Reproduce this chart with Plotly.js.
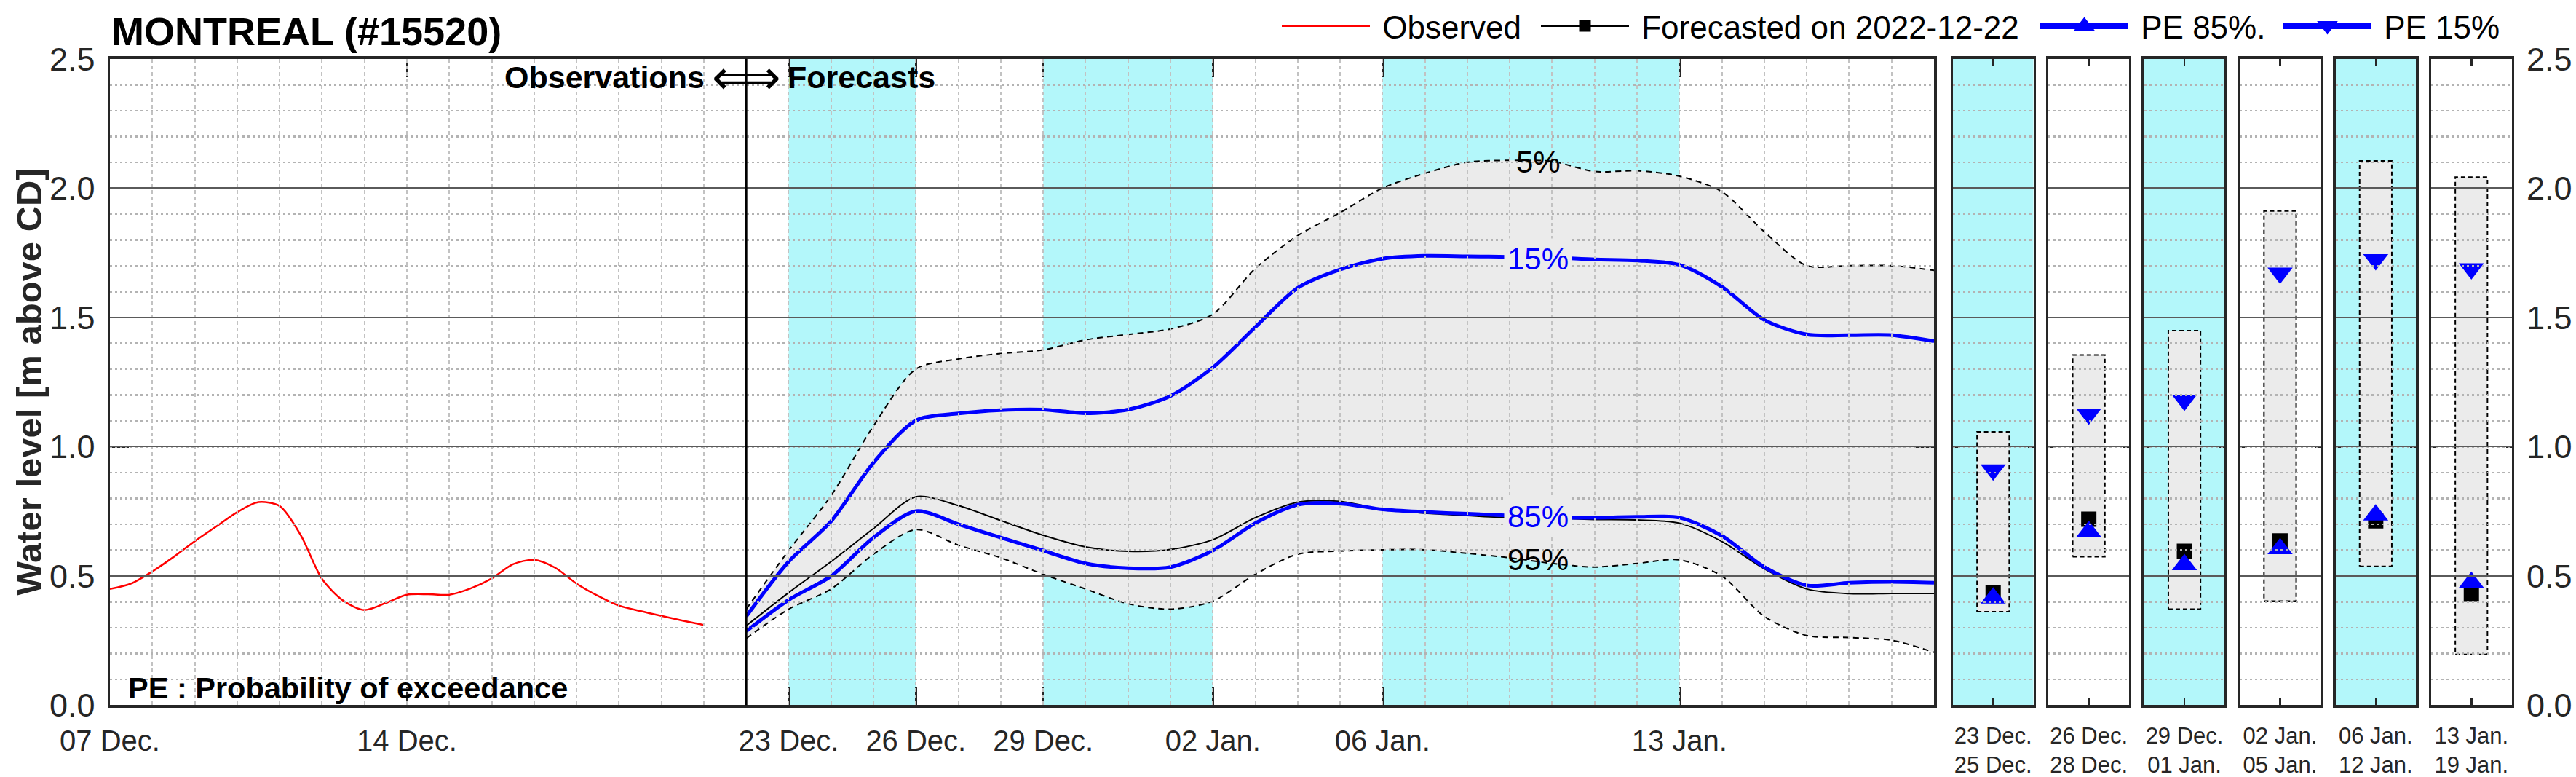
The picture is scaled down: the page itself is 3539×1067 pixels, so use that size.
<!DOCTYPE html>
<html>
<head>
<meta charset="utf-8">
<script src="https://cdn.plot.ly/plotly-3.0.1.min.js"></script>
<style>
html,body{margin:0;padding:0;background:#ffffff;}
#chart{width:3539px;height:1067px;}
</style>
</head>
<body>
<div id="chart"></div>
<script>
// ---------------- DATA ----------------
const obsDates = [
  '2022-12-07 00:00','2022-12-07 12:00','2022-12-08 00:00','2022-12-08 12:00','2022-12-09 00:00','2022-12-09 12:00',
  '2022-12-10 00:00','2022-12-10 12:00','2022-12-11 00:00','2022-12-11 12:00','2022-12-12 00:00','2022-12-12 12:00',
  '2022-12-13 00:00','2022-12-13 12:00','2022-12-14 00:00','2022-12-14 12:00','2022-12-15 00:00','2022-12-15 12:00',
  '2022-12-16 00:00','2022-12-16 12:00','2022-12-17 00:00','2022-12-17 12:00','2022-12-18 00:00','2022-12-18 12:00',
  '2022-12-19 00:00','2022-12-19 12:00','2022-12-20 00:00','2022-12-20 12:00','2022-12-21 00:00'
];
const obsLevel = [
  0.449,0.470,0.517,0.573,0.634,0.690,0.746,0.785,0.770,0.657,0.488,0.404,0.368,0.395,0.427,
  0.429,0.427,0.451,0.490,0.545,0.562,0.531,0.470,0.423,0.385,0.364,0.345,0.327,0.310
];

const fcDates = [
  '2022-12-22','2022-12-23','2022-12-24','2022-12-25','2022-12-26','2022-12-27','2022-12-28','2022-12-29',
  '2022-12-30','2022-12-31','2023-01-01','2023-01-02','2023-01-03','2023-01-04','2023-01-05','2023-01-06',
  '2023-01-07','2023-01-08','2023-01-09','2023-01-10','2023-01-11','2023-01-12','2023-01-13','2023-01-14',
  '2023-01-15','2023-01-16','2023-01-17','2023-01-18','2023-01-19'
];
const fcLevel = [0.307,0.435,0.555,0.683,0.806,0.772,0.714,0.657,0.612,0.595,0.602,0.640,0.725,0.785,0.788,
  0.757,0.742,0.733,0.725,0.723,0.718,0.716,0.704,0.633,0.527,0.449,0.431,0.432,0.432];
const pe5 = [0.371,0.598,0.810,1.080,1.300,1.339,1.360,1.374,1.413,1.434,1.455,1.512,1.689,1.816,1.905,
  2.000,2.057,2.100,2.107,2.103,2.064,2.067,2.046,1.986,1.831,1.700,1.700,1.700,1.682];
const pe15 = [0.343,0.555,0.711,0.938,1.101,1.128,1.141,1.143,1.129,1.143,1.196,1.306,1.462,1.614,1.685,
  1.727,1.738,1.736,1.734,1.731,1.724,1.720,1.703,1.618,1.490,1.434,1.431,1.431,1.408];
const pe85 = [0.286,0.407,0.499,0.648,0.750,0.700,0.648,0.598,0.548,0.530,0.534,0.598,0.704,0.775,0.780,
  0.757,0.747,0.740,0.733,0.725,0.725,0.728,0.725,0.655,0.534,0.463,0.473,0.477,0.473];
const pe95 = [0.258,0.371,0.449,0.584,0.679,0.619,0.570,0.506,0.449,0.392,0.371,0.402,0.506,0.584,0.596,
  0.601,0.601,0.587,0.570,0.548,0.534,0.548,0.562,0.499,0.343,0.269,0.261,0.251,0.204];

const shadedBands = [['2022-12-23','2022-12-26'],['2022-12-29','2023-01-02'],['2023-01-06','2023-01-13']];

const xTickDates = ['2022-12-07','2022-12-14','2022-12-23','2022-12-26','2022-12-29','2023-01-02','2023-01-06','2023-01-13'];
const xTickText  = ['07 Dec.','14 Dec.','23 Dec.','26 Dec.','29 Dec.','02 Jan.','06 Jan.','13 Jan.'];
const yTickVals  = [0, 0.5, 1.0, 1.5, 2.0, 2.5];

const periodStart  = ['23 Dec.','26 Dec.','29 Dec.','02 Jan.','06 Jan.','13 Jan.'];
const periodEnd    = ['25 Dec.','28 Dec.','01 Jan.','05 Jan.','12 Jan.','19 Jan.'];
const periodShaded = [true,false,true,false,true,false];
const periodMax5   = [1.057,1.354,1.449,1.911,2.105,2.042];
const periodMin95  = [0.361,0.574,0.371,0.402,0.537,0.196];
const periodPE15   = [0.910,1.126,1.180,1.671,1.723,1.688];
const periodPE85   = [0.414,0.671,0.543,0.605,0.735,0.475];
const periodFcst   = [0.435,0.719,0.595,0.635,0.713,0.432];

const legendNames = ['Observed', 'Forecasted on 2022-12-22', 'PE 85%.', 'PE 15%'];

// -------------- STYLE / LAYOUT --------------
const W = 3539, H = 1067;
const FONT = 'Liberation Sans, Arial, Helvetica, sans-serif';
const DARK = '#262626';
const CYAN = 'rgb(179,247,250)';
const FILLGRAY = '#ebebeb';
const BLUE = '#0000ff';
const px = v => v / W;
const py = v => 1 - v / H;

const domY = [py(968), py(78)];
const mainDomX = [px(151), px(2657)];

const traces = [];
const dashed = {color:'#000000', width:2, dash:'8px,6px', shape:'spline', smoothing:0.8};

traces.push({type:'scatter', mode:'lines', x:fcDates, y:pe95, xaxis:'x', yaxis:'y', line:dashed, showlegend:false, hoverinfo:'skip'});
traces.push({type:'scatter', mode:'lines', x:fcDates, y:pe5, xaxis:'x', yaxis:'y', line:dashed, fill:'tonexty', fillcolor:FILLGRAY, showlegend:false, hoverinfo:'skip'});
traces.push({type:'scatter', mode:'lines', x:obsDates, y:obsLevel, xaxis:'x', yaxis:'y', line:{color:'#ff0000', width:2.5, shape:'spline', smoothing:0.8}, showlegend:false});
traces.push({type:'scatter', mode:'lines', x:fcDates, y:fcLevel, xaxis:'x', yaxis:'y', line:{color:'#000000', width:2, shape:'spline', smoothing:0.8}, showlegend:false});
traces.push({type:'scatter', mode:'lines', x:fcDates, y:pe85, xaxis:'x', yaxis:'y', line:{color:BLUE, width:5, shape:'spline', smoothing:0.8}, showlegend:false});
traces.push({type:'scatter', mode:'lines', x:fcDates, y:pe15, xaxis:'x', yaxis:'y', line:{color:BLUE, width:5, shape:'spline', smoothing:0.8}, showlegend:false});
// grid overlay subplot for the main panel (grid drawn above the filled band)
traces.push({type:'scatter', mode:'lines', x:[], y:[], xaxis:'x2', yaxis:'y2', showlegend:false, hoverinfo:'skip'});

// legend entries (one legend box per entry, placed like the original)
const NB = '\u00a0';
traces.push({type:'scatter', mode:'lines', x:[null], y:[null], name:NB + legendNames[0], legend:'legend',
  line:{color:'#ff0000', width:3}});
traces.push({type:'scatter', mode:'lines+markers', x:[null], y:[null], name:NB + legendNames[1], legend:'legend2',
  line:{color:'#000000', width:3}, marker:{symbol:'square', size:16, color:'#000000'}});
traces.push({type:'scatter', mode:'lines+markers', x:[null], y:[null], name:NB + legendNames[2], legend:'legend3',
  line:{color:BLUE, width:9}, marker:{symbol:'triangle-up', size:16, color:BLUE, line:{color:BLUE, width:5}}});
traces.push({type:'scatter', mode:'lines+markers', x:[null], y:[null], name:NB + legendNames[3], legend:'legend4',
  line:{color:BLUE, width:9}, marker:{symbol:'triangle-down', size:16, color:BLUE, line:{color:BLUE, width:5}}});

const legendBox = start => ({orientation:'h', x: px(start - 5), xanchor:'left', y: py(33), yanchor:'middle',
  font:{family:FONT, size:44, color:'#000000'}, itemwidth:121, bgcolor:'rgba(0,0,0,0)', borderwidth:0});

const layout = {
  width: W, height: H,
  margin: {l:0, r:0, t:0, b:0},
  paper_bgcolor: '#ffffff',
  plot_bgcolor: 'rgba(0,0,0,0)',
  font: {family: FONT, color: DARK},
  showlegend: true,
  title: {text:'MONTREAL (#15520)', font:{family:FONT, size:54, weight:'bold', color:'#000000'},
          x: px(153), xanchor:'left', xref:'paper', y: py(40), yanchor:'middle', yref:'paper'},
  legend: legendBox(1761),
  legend2: legendBox(2117),
  legend3: legendBox(2803),
  legend4: legendBox(3137),
  xaxis: {domain: mainDomX, anchor:'y', type:'date', range:['2022-12-07','2023-01-19'],
          tickmode:'array', tickvals:xTickDates, ticktext:xTickText,
          ticks:'inside', ticklen:25, tickwidth:2.5, tickcolor:DARK, mirror:'ticks',
          showline:true, linewidth:3.5, linecolor:DARK, showgrid:false, zeroline:false,
          tickfont:{family:FONT, size:40, color:DARK}, ticklabelstandoff:11, fixedrange:true},
  yaxis: {domain: domY, anchor:'x', range:[0,2.5], tickmode:'array', tickvals:yTickVals,
          ticktext: yTickVals.map(v => v.toFixed(1)),
          ticks:'inside', ticklen:26, tickwidth:2.5, tickcolor:DARK, mirror:'ticks',
          showline:true, linewidth:3.5, linecolor:DARK, showgrid:false, zeroline:false,
          tickfont:{family:FONT, size:45, color:DARK}, ticklabelstandoff:8, fixedrange:true},
  xaxis2: {domain: mainDomX, anchor:'y2', type:'date', range:['2022-12-07','2023-01-19'],
           tickmode:'linear', tick0:'2022-12-07', dtick:86400000,
           showgrid:true, gridcolor:'#c2c2c2', gridwidth:2, griddash:'5px,4px',
           showticklabels:false, ticks:'', showline:false, zeroline:false, fixedrange:true},
  yaxis2: {domain: domY, anchor:'x2', range:[0,2.5], tickmode:'array', tickvals:[0.5,1.0,1.5,2.0],
           showgrid:true, gridcolor:'#5a5a5a', gridwidth:2,
           minor:{tickmode:'linear', tick0:0, dtick:0.1, showgrid:true, gridcolor:'#b3b3b3', gridwidth:2.5, griddash:'3px,4px'},
           showticklabels:false, ticks:'', showline:false, zeroline:false, fixedrange:true},
  shapes: [],
  annotations: []
};

// shaded bands in main panel
shadedBands.forEach(b => {
  layout.shapes.push({type:'rect', xref:'x', yref:'y domain', x0:b[0], x1:b[1], y0:0, y1:1,
                      fillcolor:CYAN, line:{width:0}, layer:'below'});
});
// observation / forecast divider
layout.shapes.push({type:'line', xref:'x', yref:'y domain', x0:fcDates[0], x1:fcDates[0], y0:0, y1:1,
                    line:{color:'#000000', width:3}, layer:'above'});

// period panels
for (let i = 0; i < 6; i++) {
  const d = 3 + 2*i, g = 4 + 2*i;
  const left = 2683 + i*131.4;
  const dom = [px(left), px(left + 110.5)];
  const last = (i === 5);
  layout['xaxis'+d] = {domain:dom, anchor:'y'+d, range:[0,1], tickmode:'array', tickvals:[0.5],
    ticktext:[periodStart[i] + '<br>' + periodEnd[i]],
    ticks:'inside', ticklen:10, tickwidth:2.5, tickcolor:DARK, mirror:'ticks',
    showline:true, linewidth:3.5, linecolor:DARK, showgrid:false, zeroline:false,
    tickfont:{family:FONT, size:31, color:DARK}, ticklabelstandoff:12, fixedrange:true};
  layout['yaxis'+d] = {domain:domY, anchor:'x'+d, range:[0,2.5], tickmode:'array', tickvals:yTickVals,
    ticktext: yTickVals.map(v => v.toFixed(1)), side: last ? 'right' : 'left',
    showticklabels: last, ticks:'inside', ticklen:8, tickwidth:2.5, tickcolor:DARK, mirror:'ticks',
    showline:true, linewidth:3.5, linecolor:DARK, showgrid:false, zeroline:false,
    tickfont:{family:FONT, size:45, color:DARK}, ticklabelstandoff:8, fixedrange:true};
  layout['xaxis'+g] = {domain:dom, anchor:'y'+g, range:[0,1], showgrid:false, showticklabels:false,
    ticks:'', showline:false, zeroline:false, fixedrange:true};
  layout['yaxis'+g] = {domain:domY, anchor:'x'+g, range:[0,2.5], tickmode:'array', tickvals:[0.5,1.0,1.5,2.0],
    showgrid:true, gridcolor:'#5a5a5a', gridwidth:2,
    minor:{tickmode:'linear', tick0:0, dtick:0.1, showgrid:true, gridcolor:'#b3b3b3', gridwidth:2.5, griddash:'3px,4px'},
    showticklabels:false, ticks:'', showline:false, zeroline:false, fixedrange:true};

  if (periodShaded[i]) {
    layout.shapes.push({type:'rect', xref:'x'+d+' domain', yref:'y'+d+' domain', x0:0, x1:1, y0:0, y1:1,
                        fillcolor:CYAN, line:{width:0}, layer:'below'});
  }
  const lo = periodMin95[i], hi = periodMax5[i];
  traces.push({type:'scatter', mode:'lines', xaxis:'x'+d, yaxis:'y'+d,
    x:[0.3,0.7,0.7,0.3,0.3], y:[lo,lo,hi,hi,lo], fill:'toself', fillcolor:FILLGRAY,
    line:{color:'#000000', width:2, dash:'6px,4px'}, showlegend:false, hoverinfo:'skip'});
  traces.push({type:'scatter', mode:'markers', xaxis:'x'+d, yaxis:'y'+d, x:[0.5], y:[periodPE15[i]],
    marker:{symbol:'triangle-down', size:30, color:BLUE}, showlegend:false});
  traces.push({type:'scatter', mode:'markers', xaxis:'x'+d, yaxis:'y'+d, x:[0.5], y:[periodFcst[i]],
    marker:{symbol:'square', size:21, color:'#000000'}, showlegend:false});
  traces.push({type:'scatter', mode:'markers', xaxis:'x'+d, yaxis:'y'+d, x:[0.5], y:[periodPE85[i]],
    marker:{symbol:'triangle-up', size:30, color:BLUE}, showlegend:false});
  traces.push({type:'scatter', mode:'lines', x:[], y:[], xaxis:'x'+g, yaxis:'y'+g, showlegend:false, hoverinfo:'skip'});
}

// annotations
const A = layout.annotations;
A.push({xref:'paper', yref:'paper', x:px(40), y:(domY[0]+domY[1])/2, text:'<b>Water level [m above CD]</b>',
        textangle:-90, showarrow:false, xanchor:'center', yanchor:'middle', font:{family:FONT, size:49, color:DARK}});
A.push({xref:'x', yref:'paper', x:fcDates[0], y:py(103), text:'⟺', showarrow:false, xanchor:'center', yanchor:'middle',
        font:{family:FONT, size:66, color:'#000000'}, borderpad:0});
A.push({xref:'x', yref:'paper', x:fcDates[0], xshift:-56, y:py(103), text:'<b>Observations</b>', showarrow:false,
        xanchor:'right', yanchor:'middle', font:{family:FONT, size:43, color:'#000000'}, borderpad:0});
A.push({xref:'x', yref:'paper', x:fcDates[0], xshift:56, y:py(103), text:'<b>Forecasts</b>', showarrow:false,
        xanchor:'left', yanchor:'middle', font:{family:FONT, size:43, color:'#000000'}, borderpad:0});
A.push({xref:'paper', yref:'paper', x:px(175), y:py(944), text:'<b>PE : Probability of exceedance</b>', showarrow:false,
        xanchor:'left', yanchor:'middle', font:{family:FONT, size:41.5, color:'#000000'}, borderpad:0});

const labelDate = '2023-01-09 16:00';
A.push({xref:'x', yref:'y', x:labelDate, y:2.10, text:'5%', showarrow:false, font:{family:FONT, size:42, color:'#000000'}});
A.push({xref:'x', yref:'y', x:labelDate, y:1.727, text:'15%', showarrow:false, bgcolor:FILLGRAY, borderpad:4,
        font:{family:FONT, size:42, color:BLUE}});
A.push({xref:'x', yref:'y', x:labelDate, y:0.728, text:'85%', showarrow:false, bgcolor:FILLGRAY, borderpad:4,
        font:{family:FONT, size:42, color:BLUE}});
A.push({xref:'x', yref:'y', x:labelDate, y:0.562, text:'95%', showarrow:false, font:{family:FONT, size:42, color:'#000000'}});

Plotly.newPlot('chart', traces, layout, {staticPlot:true, displayModeBar:false});
</script>
</body>
</html>
